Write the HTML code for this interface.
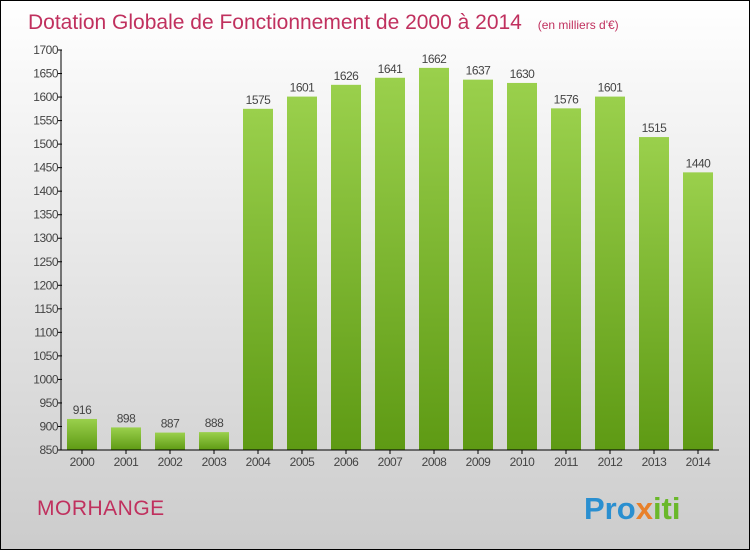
<!DOCTYPE html>
<html><head><meta charset="utf-8"><style>
body{margin:0}
#wrap{position:relative;width:748px;height:548px;border:1px solid #000;background:linear-gradient(#ffffff,#cccccc);font-family:"Liberation Sans",sans-serif;overflow:hidden}
</style></head><body>
<div id="wrap">
<svg id="chart" width="748" height="548">
<defs><linearGradient id="g" x1="0" y1="0" x2="0" y2="1"><stop offset="0" stop-color="#9ad04c"/><stop offset="1" stop-color="#5e9a14"/></linearGradient></defs>
<text x="27" y="28" font-size="21" fill="#c0305e">Dotation Globale de Fonctionnement de 2000 à 2014 <tspan font-size="12" dx="10">(en milliers d'€)</tspan></text>
<text x="36" y="514" font-size="21" letter-spacing="0.5" fill="#c0305e">MORHANGE</text>
<text x="583" y="518" font-size="31" font-weight="bold" fill="#2a8fd0">Pro<tspan fill="#e8802a">x</tspan><tspan fill="#6ab82a">iti</tspan></text>
<g id="plot"></g>
</svg>
</div>
<script>
const categories=["2000","2001","2002","2003","2004","2005","2006","2007","2008","2009","2010","2011","2012","2013","2014"];
const values=[916,898,887,888,1575,1601,1626,1641,1662,1637,1630,1576,1601,1515,1440];
const yTicks=[850,900,950,1000,1050,1100,1150,1200,1250,1300,1350,1400,1450,1500,1550,1600,1650,1700];
const yMin=850,yMax=1700,plotTop=49,plotBot=449,axisX=60;
const y=v=>plotBot-(v-yMin)/(yMax-yMin)*(plotBot-plotTop);
const x=i=>81+i*44;
const NS="http://www.w3.org/2000/svg",g=document.getElementById('plot');
function mk(t,a,txt){const e=document.createElementNS(NS,t);for(const k in a)e.setAttribute(k,a[k]);if(txt!==undefined)e.textContent=txt;g.appendChild(e);return e;}
yTicks.forEach(t=>{
 const l=mk('line',{x1:axisX-3,x2:axisX+1,y1:y(t),y2:y(t),stroke:'#000'});
 
 
 const tx=mk('text',{x:axisX-3,y:y(t)+4,'font-size':12,'text-anchor':'end',fill:'#444','letter-spacing':'-0.5'},t);
 
 
});
values.forEach((v,i)=>{
 const r=mk('rect',{x:x(i)-15,y:y(v),width:30,height:plotBot-y(v),fill:'url(#g)'});
 
 
 const vl=mk('text',{x:x(i),y:y(v)-5,'font-size':12,'text-anchor':'middle',fill:'#444','letter-spacing':'-0.5'},v);
 
 
 const tk=mk('line',{x1:x(i),x2:x(i),y1:plotBot,y2:plotBot+4,stroke:'#000'});
 
 
 const cl=mk('text',{x:x(i),y:plotBot+16,'font-size':12,'text-anchor':'middle',fill:'#444','letter-spacing':'-0.5'},categories[i]);
 
 
});
const ya=mk('line',{x1:axisX,x2:axisX,y1:plotTop,y2:plotBot,stroke:'#000'});


const xa=mk('line',{x1:axisX,x2:718,y1:plotBot,y2:plotBot,stroke:'#000'});


</script>
</body></html>
